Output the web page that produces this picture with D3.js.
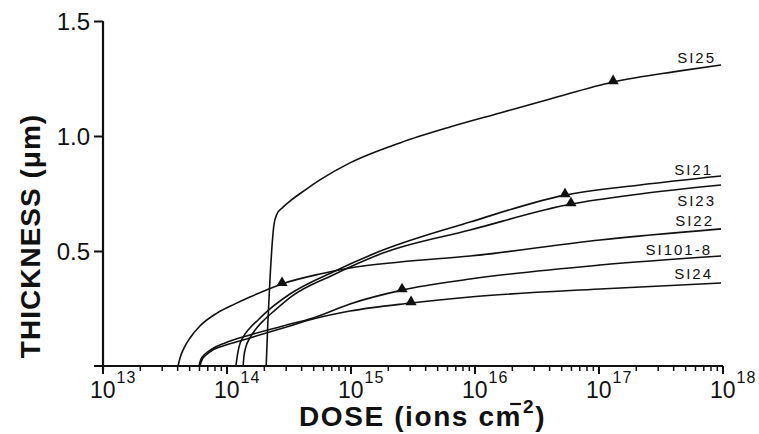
<!DOCTYPE html>
<html>
<head>
<meta charset="utf-8">
<script src="https://cdn.jsdelivr.net/npm/d3@7"></script>
<style>
  body { margin: 0; background: #fff; }
  svg { display: block; }
  text { font-family: "Liberation Sans", Arial, sans-serif; fill: #111; }
  .curve { fill: none; stroke: #111; stroke-width: 1.6px; }
</style>
</head>
<body>
<script>
var width = 759,
    height = 434;

// doses (ions cm^-2) and thickness (um)
var names = ["SI25", "SI21", "SI23", "SI22", "SI101-8", "SI24"];

var si25Dose = [2.07e14, 2.14e14, 2.22e14, 2.31e14, 2.39e14, 2.53e14, 2.83e14, 3.22e14, 4.26e14, 5.62e14, 9.8e14, 2.48e15, 6.28e15, 1.59e16, 4.03e16, 1.30e17, 4.5e17, 9.64e17],
    si25Thick = [0, 0.200, 0.374, 0.526, 0.613, 0.661, 0.691, 0.717, 0.765, 0.809, 0.883, 0.970, 1.039, 1.100, 1.161, 1.235, 1.283, 1.309];

var si21Dose = [1.18e14, 1.21e14, 1.25e14, 1.35e14, 1.53e14, 1.78e14, 2.22e14, 3.22e14, 7.16e14, 1.81e15, 9.12e15, 5.32e16, 2.14e17, 9.64e17],
    si21Thick = [0, 0.043, 0.083, 0.126, 0.165, 0.200, 0.248, 0.313, 0.409, 0.504, 0.626, 0.743, 0.787, 0.826];

var si23Dose = [1.35e14, 1.37e14, 1.42e14, 1.53e14, 1.71e14, 1.99e14, 2.44e14, 3.34e14, 7.16e14, 1.81e15, 9.12e15, 5.94e16, 2.14e17, 9.64e17],
    si23Thick = [0, 0.043, 0.083, 0.122, 0.161, 0.200, 0.243, 0.304, 0.396, 0.491, 0.591, 0.704, 0.748, 0.787];

var si22Dose = [4.03e13, 4.18e13, 4.5e13, 5.03e13, 6.05e13, 8.3e13, 1.16e14, 1.53e14, 2.78e14, 5.62e14, 9.82e14, 2.48e15, 9.12e15, 1.02e17, 9.64e17],
    si22Thick = [0, 0.035, 0.078, 0.122, 0.174, 0.230, 0.270, 0.300, 0.357, 0.400, 0.426, 0.452, 0.478, 0.548, 0.596];

var si101Dose = [5.94e13, 6.17e13, 6.65e13, 7.57e13, 9.64e13, 1.53e14, 2.83e14, 4.94e14, 9.82e14, 2.58e15, 9.12e15, 1.02e17, 9.64e17],
    si101Thick = [0, 0.030, 0.052, 0.074, 0.100, 0.135, 0.174, 0.209, 0.270, 0.330, 0.378, 0.439, 0.478];

var si24Dose = [6.05e13, 6.28e13, 6.77e13, 7.71e13, 9.82e13, 1.53e14, 2.83e14, 4.94e14, 9.82e14, 3.05e15, 9.12e15, 1.02e17, 9.64e17],
    si24Thick = [0, 0.026, 0.048, 0.070, 0.091, 0.122, 0.165, 0.204, 0.239, 0.274, 0.300, 0.335, 0.361];

// triangle markers, one per curve
var markDose = [1.30e17, 5.32e16, 5.94e16, 2.78e14, 2.58e15, 3.05e15],
    markThick = [1.235, 0.743, 0.704, 0.357, 0.330, 0.274];

var yTicks = [0.5, 1.0, 1.5],
    xExps = [13, 14, 15, 16, 17, 18];

var series = [
  [si25Dose, si25Thick], [si21Dose, si21Thick], [si23Dose, si23Thick],
  [si22Dose, si22Thick], [si101Dose, si101Thick], [si24Dose, si24Thick]
];

// label spots: right end x, baseline y (pixels)
var labelPos = [[716, 63], [713, 175], [716, 206], [714, 226], [712, 255], [713, 279]];

var x = d3.scaleLog().domain([1e13, 1e18]).range([103, 723]),
    y = d3.scaleLinear().domain([0, 1.5]).range([366, 21]);

var svg = d3.select("body").append("svg")
    .attr("width", width)
    .attr("height", height);

// axes lines
svg.append("line")
    .attr("x1", x(1e13)).attr("x2", x(1e13))
    .attr("y1", y(1.5)).attr("y2", y(0) + 4)
    .attr("stroke", "#111").attr("stroke-width", 2.2);

svg.append("line")
    .attr("x1", x(1e13) - 9).attr("x2", x(1e18))
    .attr("y1", y(0)).attr("y2", y(0))
    .attr("stroke", "#111").attr("stroke-width", 2.2);

// y ticks
var yAxis = svg.append("g")
    .attr("transform", "translate(" + x(1e13) + ",0)")
    .call(d3.axisLeft(y).tickValues(yTicks).tickSize(9).tickPadding(4).tickFormat(d3.format(".1f")));
yAxis.select(".domain").remove();
yAxis.selectAll("line").attr("stroke", "#111").attr("stroke-width", 2);
yAxis.selectAll("text")
    .attr("dy", 8)
    .style("font-size", "24px")
    .style("font-family", "Liberation Sans, Arial, sans-serif")
    .attr("fill", "#111");

// x ticks: decades long, 2..9 short
var minor = [];
xExps.slice(0, -1).forEach(function(e) {
  for (var k = 2; k < 10; k++) minor.push(k * Math.pow(10, e));
});

svg.append("g").selectAll("line.minor")
    .data(minor)
  .enter().append("line")
    .attr("x1", function(d) { return x(d); })
    .attr("x2", function(d) { return x(d); })
    .attr("y1", y(0))
    .attr("y2", y(0) + 5)
    .attr("stroke", "#111").attr("stroke-width", 1.5);

svg.append("g").selectAll("line.major")
    .data(xExps)
  .enter().append("line")
    .attr("x1", function(d) { return x(Math.pow(10, d)); })
    .attr("x2", function(d) { return x(Math.pow(10, d)); })
    .attr("y1", y(0))
    .attr("y2", y(0) + 8)
    .attr("stroke", "#111").attr("stroke-width", 2);

var xl = svg.append("g").selectAll("text")
    .data(xExps)
  .enter().append("text")
    .attr("x", function(d) { return x(Math.pow(10, d)) - 13; })
    .attr("y", 398)
    .style("font-size", "23px");
xl.append("tspan").text("10");
xl.append("tspan")
    .attr("dy", -15)
    .attr("dx", 1)
    .style("font-size", "16px")
    .style("letter-spacing", "1px")
    .text(function(d) { return d; });

// curves
var line = d3.line()
    .x(function(d) { return x(d[0]); })
    .y(function(d) { return y(d[1]); })
    .curve(d3.curveMonotoneX);

svg.append("g").selectAll("path")
    .data(series)
  .enter().append("path")
    .attr("class", "curve")
    .attr("d", function(s) { return line(d3.zip(s[0], s[1])); });

svg.append("g").selectAll("path")
    .data(d3.zip(markDose, markThick))
  .enter().append("path")
    .attr("d", d3.symbol(d3.symbolTriangle).size(54))
    .attr("transform", function(d) { return "translate(" + x(d[0]) + "," + (y(d[1]) - 1) + ")"; })
    .attr("fill", "#111");

svg.append("g").selectAll("text")
    .data(names)
  .enter().append("text")
    .attr("x", function(d, i) { return labelPos[i][0]; })
    .attr("y", function(d, i) { return labelPos[i][1]; })
    .attr("text-anchor", "end")
    .style("font-size", "15px")
    .style("letter-spacing", "2px")
    .text(function(d) { return d; });

// titles
svg.append("text")
    .attr("transform", "translate(40,236)rotate(-90)")
    .attr("text-anchor", "middle")
    .style("font-size", "28px")
    .style("font-weight", "bold")
    .style("letter-spacing", "1px")
    .text("THICKNESS (\u03bcm)");

var xt = svg.append("text")
    .attr("x", 299)
    .attr("y", 426)
    .style("font-size", "28px")
    .style("font-weight", "bold")
    .style("letter-spacing", "1.6px");
xt.append("tspan").text("DOSE (ions cm");
xt.append("tspan")
    .attr("dy", -13)
    .attr("dx", 1)
    .style("font-size", "19px")
    .text("2");
xt.append("tspan")
    .attr("dy", 13)
    .text(")");

// the minus of cm^-2 sits over the m, as in the original
var m = xt.node().getExtentOfChar(12);
svg.append("line")
    .attr("x1", m.x + m.width * 0.55)
    .attr("x2", m.x + m.width - 1)
    .attr("y1", 404).attr("y2", 404)
    .attr("stroke", "#111").attr("stroke-width", 2.2);
</script>
</body>
</html>
